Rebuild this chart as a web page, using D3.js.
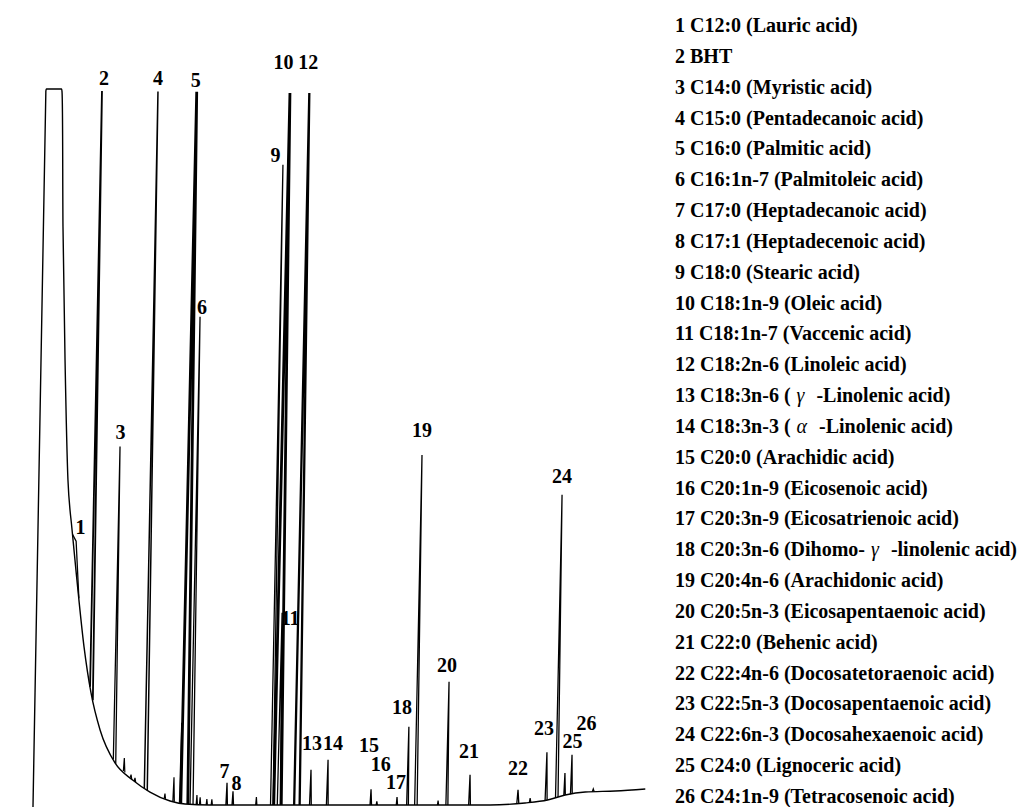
<!DOCTYPE html>
<html><head><meta charset="utf-8">
<script src="https://cdn.jsdelivr.net/npm/d3@7"></script>
<style>
html,body{margin:0;padding:0;background:#fff;}
svg{display:block;}
text{font-family:"Liberation Serif","Times New Roman",serif;font-weight:bold;fill:#000;}
</style></head>
<body><svg id="chart" width="1025" height="807"></svg>
<script>
// ---------- DATA ----------
// Baseline trace (solvent peak + tail + drift): retention time (min) and detector signal (% of full scale)
const baseTime   = [1.04, 1.07, 1.10, 2.33, 2.36, 2.63, 2.98, 3.38, 3.78, 4.24, 4.90, 5.52, 6.30, 7.54, 9.00, 10.38, 12.0, 13.2, 15.2, 22.4, 37.6, 40.4, 42.2, 43.6, 45.2, 47.6, 50.0];
const baseSignal = [-0.5, 99.7, 100, 100, 99.7, 80.8, 62.2, 45.5, 38.5, 31.5, 22.2, 15.8, 10.6, 6.0, 3.6, 1.95, 0.7, 0.28, 0.14, 0.14, 0.14, 0.42, 0.84, 1.53, 1.95, 2.1, 2.37];

// Identified peaks
const peakNumber = [1,2,3,4,5,6,7,8,9,10,11,12,13,14,15,16,17,18,19,20,21,22,23,24,25,26];
const peakTime   = [4.12, 5.56, 7.50, 10.04, 13.14, 13.72, 16.53, 17.02, 20.14, 20.60, 20.70, 22.15, 23.23, 24.58, 28.06, 28.54, 30.15, 31.00, 31.67, 34.15, 35.96, 39.82, 42.08, 42.93, 43.55, 44.09];
const peakHeight = [3.6, 84.2, 44.0, 97.3, 99.3, 68.0, 3.1, 1.9, 89.3, 99.3, 26.8, 99.3, 4.9, 6.3, 2.2, 0.5, 1.1, 10.9, 48.8, 17.2, 4.2, 1.9, 6.7, 42.2, 3.1, 5.5];
const peakHalfWidth = [0.3, 0.12, 0.10, 0.12, 0.28, 0.12, 0.06, 0.06, 0.10, 0.30, 0.12, 0.22, 0.07, 0.07, 0.06, 0.05, 0.05, 0.07, 0.10, 0.08, 0.07, 0.08, 0.08, 0.10, 0.06, 0.07];

// Unidentified minor peaks
const minorTime   = [8.28, 8.84, 9.16, 11.58, 12.28, 12.82, 14.14, 14.40, 14.94, 15.34, 18.90, 33.44, 40.80, 45.84];
const minorHeight = [1.9, 0.5, 0.5, 0.7, 3.4, 11.2, 1.3, 1.0, 0.8, 0.8, 1.1, 0.6, 0.6, 0.4];
const minorHalfWidth = [0.06, 0.06, 0.06, 0.05, 0.06, 0.07, 0.05, 0.05, 0.05, 0.05, 0.05, 0.05, 0.06, 0.08];

// Legend entries
const legendNames = [
  "C12:0 (Lauric acid)", "BHT", "C14:0 (Myristic acid)", "C15:0 (Pentadecanoic acid)",
  "C16:0 (Palmitic acid)", "C16:1n-7 (Palmitoleic acid)", "C17:0 (Heptadecanoic acid)",
  "C17:1 (Heptadecenoic acid)", "C18:0 (Stearic acid)", "C18:1n-9 (Oleic acid)",
  "C18:1n-7 (Vaccenic acid)", "C18:2n-6 (Linoleic acid)", "C18:3n-6 (|γ|-Linolenic acid)",
  "C18:3n-3 (|α|-Linolenic acid)", "C20:0 (Arachidic acid)", "C20:1n-9 (Eicosenoic acid)",
  "C20:3n-9 (Eicosatrienoic acid)", "C20:3n-6 (Dihomo-|γ|-linolenic acid)",
  "C20:4n-6 (Arachidonic acid)", "C20:5n-3 (Eicosapentaenoic acid)", "C22:0 (Behenic acid)",
  "C22:4n-6 (Docosatetoraenoic acid)", "C22:5n-3 (Docosapentaenoic acid)",
  "C22:6n-3 (Docosahexaenoic acid)", "C24:0 (Lignoceric acid)", "C24:1n-9 (Tetracosenoic acid)"
];

// ---------- LAYOUT / STYLE ----------
const baseY = 806;
const skewDeg = 1;
const k = Math.tan(skewDeg * Math.PI / 180);
const x = d3.scaleLinear().domain([0, 50]).range([20, 645]);
const y = d3.scaleLinear().domain([0, 100]).range([baseY, 89]);
const baselineAt = d3.scaleLinear().domain(baseTime).range(baseSignal).clamp(true);

// label offsets (px) from the peak apex: [dx, dy]
const labelOffset = {
  1:[4.5,-7], 2:[2,-6], 3:[0.5,-7], 4:[0,-6], 5:[-1,-5], 6:[2,-3], 7:[-2.5,-5], 8:[3.5,-1],
  9:[-7.5,-3], 10:[-6.5,-24], 11:[8,12], 12:[-1,-24], 13:[1,-20], 14:[5,-10], 15:[-2,-37],
  16:[4,-30], 17:[-1,-8], 18:[-7,-13], 19:[0,-18], 20:[-2,-10], 21:[-1,-17], 22:[0,-15],
  23:[-3,-17], 24:[0,-12], 25:[7.5,-25], 26:[14.5,-25]
};
const peakStroke = {2:1.8, 5:2.8, 10:2.8, 12:2.3, 4:1.5};

const svg = d3.select("#chart");
const g = svg.append("g")
  .attr("transform", `translate(0,${baseY}) skewX(${-skewDeg}) translate(0,${-baseY})`);

// baseline trace
const baseData = baseTime.map((t, i) => [t, baseSignal[i]]);
g.append("path")
  .datum(baseData)
  .attr("fill", "none").attr("stroke", "#000").attr("stroke-width", 1.4)
  .attr("stroke-linejoin", "round")
  .attr("d", d3.line().x(d => x(d[0])).y(d => y(d[1])).curve(d3.curveMonotoneX));

const tri = d3.line().x(d => x(d[0])).y(d => y(d[1]));
function peakPoints(t, h, w) {
  return [[t - w, baselineAt(t - w)], [t, baselineAt(t) + h], [t + w, baselineAt(t + w)]];
}

// minor peaks
g.selectAll("path.minor").data(minorTime.map((t, i) => ({t, h: minorHeight[i], w: minorHalfWidth[i]})))
  .join("path").attr("class", "minor")
  .attr("fill", "none").attr("stroke", "#000").attr("stroke-width", 1.2)
  .attr("d", d => tri(peakPoints(d.t, d.h, d.w)));

// identified peaks
const peaks = peakNumber.map((n, i) => ({n, t: peakTime[i], h: peakHeight[i], w: peakHalfWidth[i]}));
g.selectAll("path.peak").data(peaks)
  .join("path").attr("class", "peak")
  .attr("fill", "none").attr("stroke", "#000")
  .attr("stroke-width", d => peakStroke[d.n] || 1.3)
  .attr("stroke-linejoin", "miter")
  .attr("d", d => tri(peakPoints(d.t, d.h, d.w)));

// peak labels (outside the skew, placed at skewed apex)
svg.selectAll("text.plabel").data(peaks)
  .join("text").attr("class", "plabel")
  .attr("text-anchor", "middle")
  .style("font-size", "20px")
  .attr("x", d => {
    const ya = y(baselineAt(d.t) + d.h);
    return x(d.t) + k * (baseY - ya) + labelOffset[d.n][0];
  })
  .attr("y", d => y(baselineAt(d.t) + d.h) + labelOffset[d.n][1])
  .text(d => d.n);

// legend
const legend = svg.append("g");
legendNames.forEach((name, i) => {
  const t = legend.append("text")
    .attr("x", 675).attr("y", 32 + i * 30.84)
    .style("font-size", "20px");
  const parts = name.split("|");
  t.append("tspan").text((i + 1) + " " + parts[0]);
  if (parts.length > 1) {
    t.append("tspan").attr("dx", 6).style("font-style", "italic").style("font-weight", "normal")
      .text(parts[1]);
    t.append("tspan").attr("dx", 12).text(parts[2]);
  }
});
</script>
</body></html>
